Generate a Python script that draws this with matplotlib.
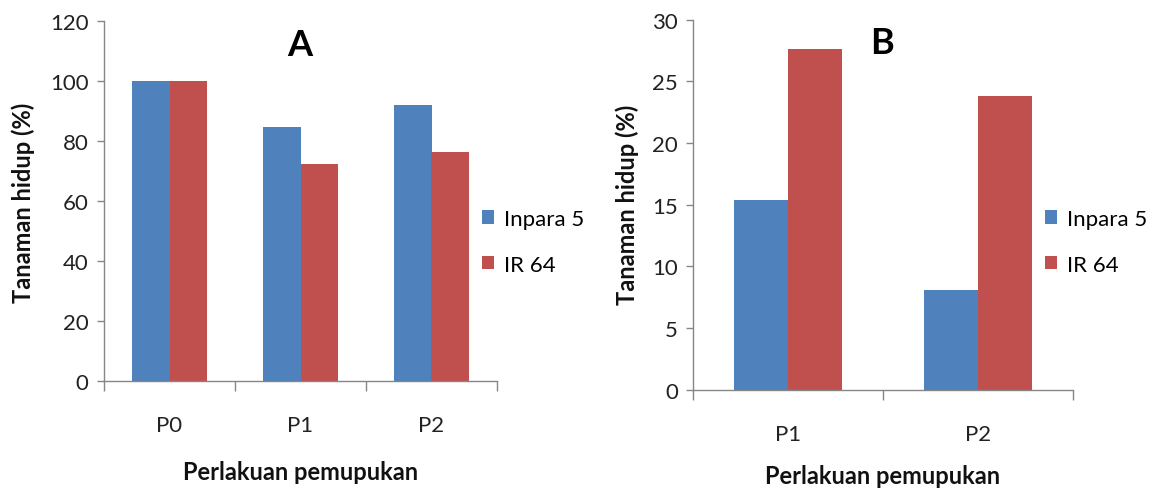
import numpy as np
import matplotlib
matplotlib.use('Agg')
import matplotlib.pyplot as plt
from matplotlib.ticker import FixedLocator

plt.rcParams['font.family'] = ['Lato', 'DejaVu Sans']

# ── data
varieties = ['Inpara 5', 'IR 64']
cats_a = ['P0', 'P1', 'P2']
inpara_a = [100.0, 84.7, 91.8]
ir64_a = [100.0, 72.4, 76.2]

cats_b = ['P1', 'P2']
inpara_b = [15.4, 8.1]
ir64_b = [27.6, 23.8]

BLUE = '#4F81BD'
RED = '#C0504D'
AXC = '#868686'
W, H = 1161, 489

fig = plt.figure(figsize=(W / 100, H / 100), dpi=100)


def fx(px):
    return px / W


def fy(py):
    return 1 - py / H


def panel(rect, cats, s1, s2, ymax, ystep, title, title_xy):
    ax = fig.add_axes(rect)
    x = np.arange(len(cats))
    bw = 0.286
    ax.bar(x - bw / 2, s1, bw, color=BLUE, label=varieties[0], zorder=2)
    ax.bar(x + bw / 2, s2, bw, color=RED, label=varieties[1], zorder=2)
    ax.set_xlim(-0.5, len(cats) - 0.5)
    ax.set_ylim(0, ymax)
    ax.set_yticks(np.arange(0, ymax + 0.1, ystep))
    ax.set_xticks(x)
    ax.set_xticklabels(cats)
    ax.xaxis.set_minor_locator(FixedLocator(np.arange(-0.5, len(cats), 1.0)))
    ax.tick_params(axis='x', which='major', length=0, pad=25, labelsize=16, colors='#222222')
    ax.tick_params(axis='x', which='minor', length=7, width=1, color=AXC, direction='out')
    ax.tick_params(axis='y', length=5, width=1, color=AXC, labelsize=16, labelcolor='#222222', pad=6)
    for s in ['top', 'right']:
        ax.spines[s].set_visible(False)
    for s in ['left', 'bottom']:
        ax.spines[s].set_color(AXC)
        ax.spines[s].set_linewidth(1)
    fig.text(fx(title_xy[0]), fy(title_xy[1]), title, fontsize=26, fontweight='bold',
             ha='center', va='center')
    return ax


ax_a = panel([fx(104), fy(381.7), fx(497 - 104), (381.7 - 21.7) / H],
             cats_a, inpara_a, ir64_a, 120, 20, 'A', (300, 45))
ax_b = panel([fx(693.3), fy(390.7), fx(1072.7 - 693.3), (390.7 - 20.7) / H],
             cats_b, inpara_b, ir64_b, 30, 5, 'B', (882, 43))

# axis labels
for xc, yc in [(23, 203), (627, 205)]:
    fig.text(fx(xc), fy(yc), 'Tanaman hidup (%)', rotation=90, fontsize=17,
             fontweight='bold', ha='center', va='center', color='#111111')
for xc, yc in [(301, 472), (883, 477)]:
    fig.text(fx(xc), fy(yc), 'Perlakuan pemupukan', fontsize=17,
             fontweight='bold', ha='center', va='center', color='#111111')

# legends
for ax, lx in [(ax_a, 482), (ax_b, 1045)]:
    h, l = ax.get_legend_handles_labels()
    fig.legend(h, l, loc='upper left', bbox_to_anchor=(fx(lx), fy(210)), frameon=False,
               fontsize=16, handlelength=0.55, handleheight=0.55, handletextpad=0.45,
               labelspacing=1.15, borderaxespad=0, borderpad=0)

plt.savefig('out.png', dpi=100)
